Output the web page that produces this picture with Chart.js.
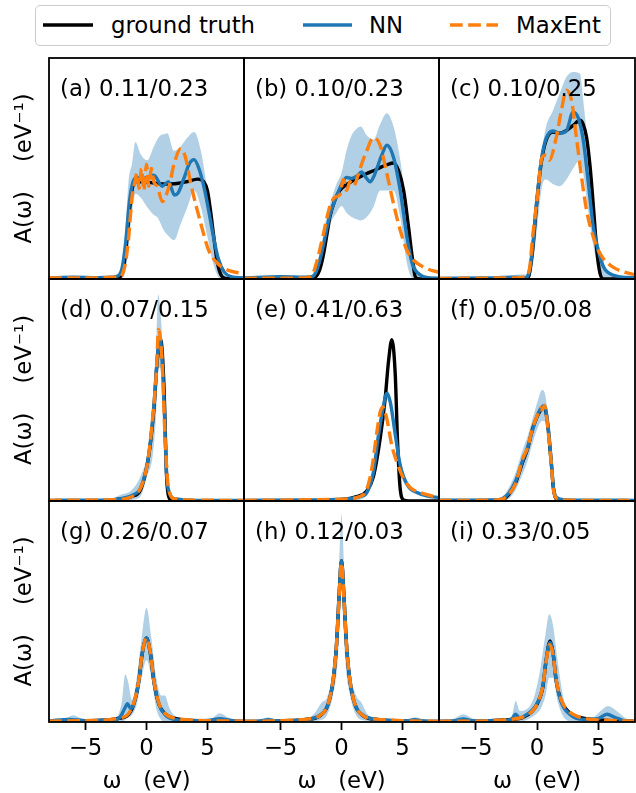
<!DOCTYPE html>
<html>
<head>
<meta charset="utf-8">
<script src="https://cdn.jsdelivr.net/npm/chart.js@4.4.0/dist/chart.umd.min.js"></script>
<style>
  html, body { margin: 0; padding: 0; background: #fff; }
  body { width: 636px; height: 793px; position: relative; overflow: hidden; font-family: 'DejaVu Sans', sans-serif; }
  canvas { position: absolute; }
  #legendBox { position: absolute; left: 35px; top: 5px; width: 574px; height: 39px; border: 1.5px solid #cccccc; border-radius: 5px; }
  .legText { position: absolute; top: 12px; font-size: 22.8px; line-height: 26px; color: #000; white-space: pre; }
  #legendLines { position: absolute; left: 0; top: 0; }
</style>
</head>
<body>
<div id="legendBox"></div>
<svg id="legendLines" width="636" height="50"></svg>
<script>
// legend + panel texts
const legendLabels = ['ground truth', 'NN', 'MaxEnt'];
const panelLabels = ['(a) 0.11/0.23', '(b) 0.10/0.23', '(c) 0.10/0.25',
                     '(d) 0.07/0.15', '(e) 0.41/0.63', '(f) 0.05/0.08',
                     '(g) 0.26/0.07', '(h) 0.12/0.03', '(i) 0.33/0.05'];
const xTicks = [-5, 0, 5];
const xTitle = 'ω   (eV)';
const yTitle = 'A(ω)    (eV⁻¹)';

// (a)
const truthW_a = [-8, -3, -2.3, -2.0, -1.75, -1.45, -1.2, -0.9, -0.5, 0.5, 1.5, 2.5, 3.3, 4.2, 4.7, 5.0, 5.25, 5.5, 5.8, 6.1, 6.5, 8];
const truthA_a = [0, 0, 0.003, 0.03, 0.1, 0.28, 0.4, 0.44, 0.44, 0.435, 0.43, 0.432, 0.44, 0.452, 0.44, 0.4, 0.31, 0.2, 0.08, 0.02, 0.002, 0];
const nnW_a = [-8, -6, -4, -2.8, -2.3, -2.0, -1.7, -1.4, -1.1, -0.8, -0.4, 0, 0.6, 1.3, 1.8, 2.3, 2.6, 3.1, 3.5, 3.9, 4.3, 4.7, 5.1, 5.5, 5.9, 6.4, 7, 8];
const nnA_a = [0.005, 0.008, 0.006, 0.008, 0.015, 0.05, 0.17, 0.35, 0.44, 0.46, 0.45, 0.46, 0.47, 0.42, 0.44, 0.38, 0.39, 0.46, 0.52, 0.54, 0.5, 0.42, 0.31, 0.19, 0.09, 0.03, 0.01, 0.005];
const maxEntW_a = [-8, -4, -2.6, -2.15, -1.74, -1.46, -1.19, -0.91, -0.8, -0.6, -0.41, -0.22, 0, 0.19, 0.41, 0.6, 0.88, 1.3, 1.85, 2.26, 2.81, 3.2, 3.64, 4.46, 5.1, 5.84, 6.67, 8];
const maxEntA_a = [0.005, 0.005, 0.008, 0.01, 0.07, 0.19, 0.37, 0.45, 0.48, 0.41, 0.5, 0.4, 0.52, 0.42, 0.5, 0.44, 0.42, 0.35, 0.42, 0.52, 0.59, 0.55, 0.43, 0.25, 0.13, 0.07, 0.04, 0.024];
const bandW_a = [-8, -3, -2.15, -1.74, -1.46, -1.19, -0.91, -0.5, 0.05, 0.6, 0.88, 1.16, 1.43, 1.71, 2.26, 2.81, 3.36, 3.91, 4.46, 5.0, 5.56, 6.1, 6.67, 8];
const bandHi_a = [0.01, 0.01, 0.03, 0.22, 0.45, 0.52, 0.62, 0.567, 0.537, 0.6, 0.63, 0.65, 0.655, 0.66, 0.58, 0.6, 0.64, 0.665, 0.58, 0.4, 0.19, 0.054, 0.01, 0.005];
const bandLo_a = [0, 0, 0, 0.03, 0.15, 0.3, 0.386, 0.37, 0.326, 0.29, 0.28, 0.25, 0.22, 0.2, 0.175, 0.25, 0.326, 0.4, 0.326, 0.19, 0.054, 0, 0, 0];

// (b)
const truthW_b = [-8, -2.4, -2.1, -1.8, -1.52, -1.2, -0.96, -0.55, -0.14, 0.5, 1.24, 2.0, 2.62, 3.2, 3.72, 4.27, 4.68, 5.1, 5.5, 5.8, 6.06, 6.4, 8];
const truthA_b = [0, 0, 0.01, 0.04, 0.1, 0.2, 0.28, 0.356, 0.4, 0.43, 0.454, 0.475, 0.49, 0.505, 0.517, 0.525, 0.49, 0.4, 0.235, 0.1, 0.01, 0, 0];
const nnW_b = [-8, -5, -3, -2.4, -2.1, -1.8, -1.5, -1.2, -0.9, -0.5, -0.14, 0.41, 0.8, 1.24, 1.65, 2.0, 2.34, 2.7, 2.9, 3.3, 3.72, 4.27, 4.82, 5.37, 5.8, 6.5, 7.2, 8];
const nnA_b = [0.005, 0.01, 0.008, 0.01, 0.03, 0.08, 0.15, 0.23, 0.3, 0.36, 0.41, 0.46, 0.455, 0.465, 0.484, 0.46, 0.44, 0.47, 0.5, 0.56, 0.605, 0.55, 0.4, 0.19, 0.07, 0.017, 0.005, 0.003];
const maxEntW_b = [-8, -3, -2.4, -2.07, -1.5, -1.0, -0.55, -0.14, 0.15, 0.41, 0.7, 1.0, 1.3, 1.57, 2.07, 2.62, 3.17, 3.72, 4.27, 4.82, 5.37, 5.92, 7.0, 8];
const maxEntA_b = [0.003, 0.005, 0.02, 0.07, 0.2, 0.32, 0.37, 0.38, 0.45, 0.4, 0.44, 0.42, 0.46, 0.507, 0.58, 0.64, 0.605, 0.477, 0.34, 0.22, 0.13, 0.085, 0.047, 0.03];
const bandW_b = [-8, -3, -2.4, -2.07, -1.65, -1.24, -0.83, -0.41, 0, 0.41, 0.83, 1.24, 1.57, 2.07, 2.62, 3.17, 3.72, 4.27, 4.82, 5.37, 5.92, 6.5, 8];
const bandHi_b = [0.01, 0.01, 0.02, 0.06, 0.15, 0.28, 0.36, 0.43, 0.48, 0.58, 0.65, 0.68, 0.69, 0.65, 0.63, 0.7, 0.75, 0.69, 0.54, 0.31, 0.1, 0.02, 0.01];
const bandLo_b = [0, 0, 0, 0.02, 0.08, 0.18, 0.26, 0.3, 0.33, 0.3, 0.28, 0.27, 0.265, 0.28, 0.326, 0.4, 0.4, 0.4, 0.28, 0.07, 0, 0, 0];

// (c)
const truthW_c = [-8, -1.0, -0.7, -0.36, -0.08, 0.33, 0.74, 1.29, 1.85, 2.4, 2.95, 3.5, 3.77, 4.05, 4.33, 4.6, 4.88, 5.15, 5.45, 8];
const truthA_c = [0, 0, 0.01, 0.13, 0.31, 0.52, 0.627, 0.665, 0.66, 0.672, 0.695, 0.718, 0.7, 0.64, 0.51, 0.33, 0.13, 0.024, 0, 0];
const nnW_c = [-8, -4, -2, -1.0, -0.7, -0.36, -0.08, 0.33, 0.74, 1.29, 1.85, 2.4, 2.95, 3.36, 3.77, 4.2, 4.6, 5.0, 5.43, 6.25, 8];
const nnA_c = [0.003, 0.005, 0.008, 0.005, 0.02, 0.14, 0.32, 0.53, 0.635, 0.67, 0.66, 0.67, 0.755, 0.73, 0.63, 0.43, 0.235, 0.13, 0.054, 0.017, 0.005];
const maxEntW_c = [-8, -2, -1.0, -0.6, -0.36, 0.06, 0.41, 0.74, 1.0, 1.57, 1.98, 2.4, 2.81, 3.22, 3.64, 4.05, 4.6, 5.15, 5.98, 7.08, 8];
const maxEntA_c = [0.002, 0.005, 0.01, 0.05, 0.19, 0.386, 0.55, 0.56, 0.537, 0.64, 0.76, 0.854, 0.81, 0.64, 0.46, 0.31, 0.19, 0.115, 0.062, 0.032, 0.02];
const bandW_c = [-8, -2.5, -1.5, -1.0, -0.6, -0.3, 0.05, 0.41, 0.74, 1.29, 1.85, 2.4, 2.95, 3.5, 3.77, 4.2, 4.6, 5.15, 6, 8];
const bandHi_c = [0.005, 0.01, 0.02, 0.02, 0.06, 0.2, 0.4, 0.58, 0.69, 0.76, 0.84, 0.914, 0.937, 0.93, 0.81, 0.58, 0.33, 0.13, 0.03, 0.01];
const bandLo_c = [0, 0, 0, 0, 0, 0.08, 0.25, 0.42, 0.45, 0.43, 0.42, 0.45, 0.5, 0.537, 0.48, 0.3, 0.15, 0.03, 0, 0];

// (d)
const truthW_d = [-8, -3, -2, -1.2, -0.47, 0.08, 0.33, 0.61, 0.88, 1.16, 1.43, 1.65, 1.85, 2.2, 8];
const truthA_d = [0, 0.003, 0.01, 0.02, 0.053, 0.17, 0.265, 0.417, 0.63, 0.727, 0.52, 0.11, 0.015, 0, 0];
const nnW_d = [-8, -3, -2, -1.2, -0.47, 0.08, 0.33, 0.61, 0.88, 1.1, 1.4, 1.65, 1.9, 2.3, 4, 8];
const nnA_d = [0.003, 0.005, 0.012, 0.025, 0.06, 0.17, 0.27, 0.43, 0.64, 0.735, 0.5, 0.12, 0.035, 0.01, 0.003, 0.002];
const maxEntW_d = [-8, -2.5, -1.6, -0.9, -0.47, 0.08, 0.33, 0.8, 0.99, 1.27, 1.54, 1.82, 2.3, 4, 8];
const maxEntA_d = [0.003, 0.006, 0.012, 0.03, 0.06, 0.17, 0.28, 0.57, 0.773, 0.64, 0.265, 0.053, 0.01, 0.004, 0.002];
const bandW_d = [-8, -3, -2, -1.2, -0.5, 0.1, 0.5, 0.8, 0.95, 1.15, 1.4, 1.65, 1.9, 2.3, 8];
const bandHi_d = [0.005, 0.01, 0.03, 0.05, 0.11, 0.22, 0.4, 0.7, 0.93, 0.85, 0.6, 0.16, 0.05, 0.01, 0.005];
const bandLo_d = [0, 0, 0, 0.005, 0.02, 0.12, 0.2, 0.4, 0.6, 0.6, 0.4, 0.06, 0, 0, 0];

// (e)
const truthW_e = [-8, -2, -0.2, 1.24, 2.07, 2.62, 3.17, 3.58, 3.86, 4.13, 4.41, 4.6, 4.82, 5.1, 5.5, 8];
const truthA_e = [0, 0, 0.005, 0.02, 0.045, 0.11, 0.28, 0.46, 0.63, 0.727, 0.57, 0.265, 0.053, 0.005, 0, 0];
const nnW_e = [-8, -3, 0, 1.5, 2.07, 2.62, 3.03, 3.45, 3.72, 4.0, 4.41, 4.82, 5.37, 6.2, 7.0, 8];
const nnA_e = [0.003, 0.005, 0.008, 0.02, 0.038, 0.13, 0.295, 0.43, 0.485, 0.447, 0.3, 0.16, 0.076, 0.038, 0.023, 0.015];
const maxEntW_e = [-8, 0, 1.5, 2.07, 2.48, 2.9, 3.17, 3.39, 3.72, 4.13, 4.55, 5.1, 5.65, 6.47, 8];
const maxEntA_e = [0.003, 0.008, 0.02, 0.053, 0.144, 0.31, 0.4, 0.424, 0.37, 0.25, 0.174, 0.1, 0.06, 0.038, 0.015];
const bandW_e = [-8, -3, 1, 2.07, 2.62, 3.03, 3.45, 3.72, 4.0, 4.41, 4.82, 5.37, 6.2, 8];
const bandHi_e = [0.01, 0.01, 0.015, 0.05, 0.16, 0.33, 0.47, 0.5, 0.47, 0.33, 0.19, 0.09, 0.045, 0.02];
const bandLo_e = [0, 0, 0.003, 0.025, 0.1, 0.26, 0.4, 0.46, 0.42, 0.27, 0.13, 0.06, 0.03, 0.01];

// (f)
const truthW_f = [-8, -3.5, -2.84, -2.3, -1.74, -1.18, -0.77, -0.36, 0.06, 0.41, 0.6, 0.88, 1.16, 1.35, 1.57, 2.12, 8];
const truthA_f = [0, 0.002, 0.005, 0.03, 0.083, 0.174, 0.235, 0.326, 0.386, 0.417, 0.424, 0.34, 0.174, 0.053, 0.01, 0.003, 0];
const nnW_f = [-8, -3.5, -2.84, -2.3, -1.74, -1.18, -0.77, -0.36, 0.06, 0.35, 0.6, 0.88, 1.16, 1.35, 1.6, 2.3, 8];
const nnA_f = [0.003, 0.005, 0.01, 0.035, 0.09, 0.18, 0.24, 0.32, 0.39, 0.42, 0.43, 0.35, 0.18, 0.06, 0.015, 0.005, 0.003];
const maxEntW_f = [-8, -3.5, -2.84, -2.3, -1.74, -1.18, -0.77, -0.36, 0.06, 0.3, 0.41, 0.61, 0.88, 1.16, 1.35, 1.6, 2.3, 8];
const maxEntA_f = [0.002, 0.004, 0.008, 0.03, 0.08, 0.19, 0.24, 0.33, 0.39, 0.42, 0.41, 0.43, 0.33, 0.17, 0.05, 0.012, 0.004, 0.002];
const bandW_f = [-8, -3.5, -2.84, -2.3, -1.74, -1.18, -0.77, -0.36, 0.06, 0.41, 0.7, 1.0, 1.3, 1.6, 2.2, 8];
const bandHi_f = [0.01, 0.01, 0.02, 0.06, 0.13, 0.23, 0.29, 0.37, 0.45, 0.5, 0.47, 0.3, 0.1, 0.03, 0.01, 0.005];
const bandLo_f = [0, 0, 0, 0.01, 0.05, 0.12, 0.18, 0.26, 0.33, 0.36, 0.36, 0.2, 0.03, 0, 0, 0];

// (g)
const truthW_g = [-8, -5, -3, -2.26, -1.6, -1.05, -0.63, -0.36, 0, 0.33, 0.6, 1.02, 1.57, 2.26, 3.5, 5, 8];
const truthA_g = [0.003, 0.005, 0.01, 0.017, 0.027, 0.08, 0.186, 0.306, 0.38, 0.306, 0.186, 0.08, 0.035, 0.017, 0.008, 0.005, 0.003];
const nnW_g = [-8, -6.3, -5, -3, -2.2, -1.8, -1.55, -1.3, -1.05, -0.63, -0.36, 0, 0.33, 0.6, 1.02, 1.57, 2.26, 4, 5.2, 6.0, 7, 8];
const nnA_g = [0.005, 0.012, 0.006, 0.008, 0.02, 0.06, 0.083, 0.06, 0.08, 0.186, 0.306, 0.38, 0.306, 0.186, 0.08, 0.03, 0.012, 0.006, 0.008, 0.015, 0.006, 0.003];
const maxEntW_g = [-8, -5, -3, -2.26, -1.6, -1.05, -0.63, -0.36, 0, 0.33, 0.6, 1.02, 1.57, 2.26, 3.5, 5, 8];
const maxEntA_g = [0.004, 0.006, 0.011, 0.018, 0.03, 0.085, 0.19, 0.31, 0.38, 0.31, 0.19, 0.085, 0.036, 0.018, 0.009, 0.006, 0.004];
const bandW_g = [-8, -6.5, -6.0, -5.3, -4, -2.5, -2.0, -1.75, -1.5, -1.2, -0.8, -0.4, 0, 0.4, 0.8, 1.2, 1.5, 1.9, 2.5, 3.5, 5.3, 6.0, 6.7, 8];
const bandHi_g = [0.008, 0.02, 0.03, 0.015, 0.01, 0.02, 0.1, 0.216, 0.18, 0.1, 0.2, 0.38, 0.517, 0.38, 0.2, 0.12, 0.12, 0.06, 0.02, 0.01, 0.015, 0.04, 0.02, 0.005];
const bandLo_g = [0, 0, 0, 0, 0, 0, 0, 0.01, 0.02, 0.03, 0.08, 0.2, 0.28, 0.2, 0.06, 0.01, 0, 0, 0, 0, 0, 0, 0, 0];

// (h)
const truthW_h = [-8, -5, -2.9, -1.8, -1.1, -0.69, -0.41, -0.19, 0, 0.19, 0.41, 0.69, 1.1, 1.8, 2.9, 5, 8];
const truthA_h = [0.002, 0.005, 0.012, 0.027, 0.08, 0.186, 0.35, 0.58, 0.73, 0.58, 0.35, 0.186, 0.08, 0.027, 0.012, 0.005, 0.002];
const nnW_h = [-8, -6.8, -6, -5.2, -2.9, -1.8, -1.1, -0.69, -0.41, -0.19, 0, 0.19, 0.41, 0.69, 1.1, 1.8, 2.9, 5.2, 6, 6.8, 8];
const nnA_h = [0.002, 0.004, 0.01, 0.005, 0.012, 0.03, 0.08, 0.19, 0.35, 0.58, 0.73, 0.58, 0.35, 0.19, 0.08, 0.03, 0.012, 0.005, 0.01, 0.004, 0.002];
const maxEntW_h = [-8, -5, -2.9, -1.8, -1.1, -0.69, -0.41, -0.19, 0, 0.19, 0.41, 0.69, 1.1, 1.8, 2.9, 5, 8];
const maxEntA_h = [0.003, 0.006, 0.013, 0.028, 0.082, 0.19, 0.35, 0.57, 0.72, 0.57, 0.35, 0.19, 0.082, 0.028, 0.013, 0.006, 0.003];
const bandW_h = [-8, -6.5, -6, -5.3, -3, -2.2, -1.6, -1.2, -0.7, -0.35, -0.1, 0, 0.1, 0.35, 0.7, 1.2, 1.6, 2.2, 3, 5.3, 6, 6.7, 8];
const bandHi_h = [0.005, 0.012, 0.022, 0.01, 0.015, 0.04, 0.09, 0.11, 0.24, 0.5, 0.85, 0.94, 0.85, 0.5, 0.24, 0.12, 0.09, 0.03, 0.015, 0.01, 0.022, 0.012, 0.005];
const bandLo_h = [0, 0, 0, 0, 0, 0.005, 0.01, 0.03, 0.12, 0.25, 0.5, 0.6, 0.5, 0.25, 0.12, 0.03, 0.01, 0.005, 0, 0, 0, 0, 0];

// (i)
const truthW_i = [-8, -4, -2.5, -1.19, -0.36, 0.06, 0.47, 0.74, 1.07, 1.29, 1.57, 1.98, 2.67, 3.77, 5.5, 8];
const truthA_i = [0.002, 0.005, 0.01, 0.02, 0.05, 0.087, 0.155, 0.276, 0.367, 0.32, 0.186, 0.095, 0.042, 0.017, 0.008, 0.003];
const nnW_i = [-8, -6.8, -6.0, -5.2, -3, -2.1, -1.74, -1.4, -0.8, -0.36, 0.06, 0.47, 0.74, 1.07, 1.29, 1.57, 1.98, 2.67, 3.77, 5.0, 5.7, 6.4, 7.2, 8];
const nnA_i = [0.003, 0.005, 0.014, 0.005, 0.006, 0.012, 0.035, 0.018, 0.035, 0.055, 0.09, 0.16, 0.28, 0.36, 0.32, 0.186, 0.09, 0.035, 0.012, 0.015, 0.035, 0.02, 0.005, 0.003];
const maxEntW_i = [-8, -4, -2.5, -1.19, -0.36, 0.06, 0.47, 0.74, 1.02, 1.29, 1.57, 1.98, 2.67, 3.77, 5.5, 8];
const maxEntA_i = [0.003, 0.005, 0.01, 0.022, 0.05, 0.088, 0.16, 0.27, 0.35, 0.31, 0.19, 0.1, 0.045, 0.018, 0.008, 0.004];
const bandW_i = [-8, -6.8, -6.0, -5.2, -3, -2.1, -1.74, -1.4, -0.8, -0.2, 0.3, 0.7, 1.0, 1.3, 1.7, 2.2, 3, 4.5, 5.2, 5.8, 6.5, 7.3, 8];
const bandHi_i = [0.005, 0.015, 0.035, 0.015, 0.01, 0.02, 0.095, 0.05, 0.06, 0.12, 0.25, 0.4, 0.487, 0.44, 0.27, 0.1, 0.04, 0.02, 0.05, 0.072, 0.05, 0.015, 0.005];
const bandLo_i = [0, 0, 0, 0, 0, 0, 0.01, 0, 0.01, 0.03, 0.06, 0.12, 0.2, 0.2, 0.09, 0.02, 0, 0, 0, 0.01, 0, 0, 0];

const panels = [
  {truth: [truthW_a, truthA_a], nn: [nnW_a, nnA_a], maxEnt: [maxEntW_a, maxEntA_a], band: [bandW_a, bandHi_a, bandLo_a]},
  {truth: [truthW_b, truthA_b], nn: [nnW_b, nnA_b], maxEnt: [maxEntW_b, maxEntA_b], band: [bandW_b, bandHi_b, bandLo_b]},
  {truth: [truthW_c, truthA_c], nn: [nnW_c, nnA_c], maxEnt: [maxEntW_c, maxEntA_c], band: [bandW_c, bandHi_c, bandLo_c]},
  {truth: [truthW_d, truthA_d], nn: [nnW_d, nnA_d], maxEnt: [maxEntW_d, maxEntA_d], band: [bandW_d, bandHi_d, bandLo_d]},
  {truth: [truthW_e, truthA_e], nn: [nnW_e, nnA_e], maxEnt: [maxEntW_e, maxEntA_e], band: [bandW_e, bandHi_e, bandLo_e]},
  {truth: [truthW_f, truthA_f], nn: [nnW_f, nnA_f], maxEnt: [maxEntW_f, maxEntA_f], band: [bandW_f, bandHi_f, bandLo_f]},
  {truth: [truthW_g, truthA_g], nn: [nnW_g, nnA_g], maxEnt: [maxEntW_g, maxEntA_g], band: [bandW_g, bandHi_g, bandLo_g]},
  {truth: [truthW_h, truthA_h], nn: [nnW_h, nnA_h], maxEnt: [maxEntW_h, maxEntA_h], band: [bandW_h, bandHi_h, bandLo_h]},
  {truth: [truthW_i, truthA_i], nn: [nnW_i, nnA_i], maxEnt: [maxEntW_i, maxEntA_i], band: [bandW_i, bandHi_i, bandLo_i]}
];

// look
const COLORS = {truth: '#000000', nn: '#1f77b4', maxEnt: '#ff7f0e', band: 'rgba(31,119,180,0.35)'};
const DASH = [12.7, 5.5];
const FONT = 22.8;
const LW = 3.4;
const PAD = 6;
const PAGE_H = 793;
const plotLeft = [49, 244, 439], plotWidth = [195, 195, 196];
const plotTop = [58, 279, 501], plotHeight = [221, 222, 221];

Chart.defaults.font.family = "'DejaVu Sans', sans-serif";
Chart.defaults.color = '#000';

// legend (html/svg, sits above the grid)
const legendLineX = [[43, 93], [303, 352], [450, 498]];
const legendTextX = [111, 369, 516];
const legendColors = [COLORS.truth, COLORS.nn, COLORS.maxEnt];
const svg = document.getElementById('legendLines');
legendLabels.forEach((lab, i) => {
    const ln = document.createElementNS('http://www.w3.org/2000/svg', 'line');
    ln.setAttribute('x1', legendLineX[i][0]); ln.setAttribute('x2', legendLineX[i][1]);
    ln.setAttribute('y1', 25); ln.setAttribute('y2', 25);
    ln.setAttribute('stroke', legendColors[i]); ln.setAttribute('stroke-width', LW);
    if (i === 2) ln.setAttribute('stroke-dasharray', DASH.join(' '));
    svg.appendChild(ln);
    const sp = document.createElement('span');
    sp.className = 'legText';
    sp.style.left = legendTextX[i] + 'px';
    sp.textContent = lab;
    document.body.appendChild(sp);
});

const framePlugin = {
    id: 'frame',
    afterDatasetsDraw(chart) {
        const {ctx, chartArea: a} = chart;
        ctx.save();
        ctx.strokeStyle = '#000';
        ctx.lineWidth = 1.8;
        ctx.strokeRect(a.left, a.top, a.right - a.left, a.bottom - a.top);
        ctx.restore();
    }
};

const panelLabelPlugin = {
    id: 'panelLabel',
    afterDraw(chart, args, opts) {
        const {ctx, chartArea: a} = chart;
        ctx.save();
        ctx.font = FONT + "px 'DejaVu Sans'";
        ctx.fillStyle = '#000';
        ctx.textBaseline = 'alphabetic';
        ctx.fillText(opts.text, a.left + 11, a.top + 38);
        ctx.restore();
    }
};

const pts = (w, a) => w.map((x, i) => ({x: x, y: a[i]}));

function lineSet(label, data, color, dash) {
    return {
        label: label, data: data, borderColor: color, borderWidth: LW,
        borderDash: dash || [], pointRadius: 0, fill: false, clip: 0,
        cubicInterpolationMode: 'monotone', borderJoinStyle: 'round'
    };
}

panels.forEach((p, i) => {
    const row = Math.floor(i / 3), col = i % 3;
    const isLeft = col === 0, isBottom = row === 2;
    const cLeft = isLeft ? 0 : plotLeft[col] - PAD;
    const cTop = plotTop[row] - PAD;
    const cW = plotLeft[col] + plotWidth[col] + PAD - cLeft;
    const cH = isBottom ? PAGE_H - cTop : plotHeight[row] + 2 * PAD;

    const canvas = document.createElement('canvas');
    canvas.width = cW; canvas.height = cH;
    canvas.style.left = cLeft + 'px'; canvas.style.top = cTop + 'px';
    canvas.style.width = cW + 'px'; canvas.style.height = cH + 'px';
    document.body.appendChild(canvas);

    new Chart(canvas.getContext('2d'), {
        type: 'line',
        data: {
            datasets: [
                lineSet('MaxEnt', pts(...p.maxEnt), COLORS.maxEnt, DASH),
                lineSet('NN', pts(...p.nn), COLORS.nn),
                lineSet('ground truth', pts(...p.truth), COLORS.truth),
                {label: 'NN spread', data: pts(p.band[0], p.band[1]), borderWidth: 0, borderColor: 'rgba(0,0,0,0)',
                 backgroundColor: COLORS.band, fill: '+1', pointRadius: 0, clip: 0, cubicInterpolationMode: 'monotone'},
                {label: 'NN spread low', data: pts(p.band[0], p.band[2]), borderWidth: 0, borderColor: 'rgba(0,0,0,0)',
                 fill: false, pointRadius: 0, clip: 0, cubicInterpolationMode: 'monotone'}
            ]
        },
        options: {
            responsive: false,
            animation: false,
            events: [],
            layout: {padding: {left: isLeft ? 0 : PAD, right: PAD, top: PAD, bottom: isBottom ? 0 : PAD}},
            plugins: {
                legend: {display: false},
                tooltip: {enabled: false},
                panelLabel: {text: panelLabels[i]}
            },
            scales: {
                x: {
                    type: 'linear', min: -8, max: 8, display: isBottom,
                    afterBuildTicks: s => { s.ticks = xTicks.map(v => ({value: v})); },
                    afterFit: s => { s.height = isBottom ? PAGE_H - (plotTop[2] + plotHeight[2]) : 0; },
                    grid: {drawOnChartArea: false, drawTicks: true, tickLength: 8, tickWidth: 1.8, tickColor: '#000'},
                    border: {display: false},
                    ticks: {padding: 5, color: '#000', maxRotation: 0, font: {size: FONT},
                            callback: v => v < 0 ? '\u2212' + Math.abs(v) : String(v)},
                    title: {display: true, text: xTitle, color: '#000', font: {size: FONT, lineHeight: 1}, padding: {top: 0, bottom: 0}}
                },
                y: {
                    min: 0, max: 1, display: isLeft,
                    afterFit: s => { s.width = isLeft ? plotLeft[0] : 0; },
                    grid: {display: false},
                    border: {display: false},
                    ticks: {display: false},
                    title: {display: true, text: yTitle, color: '#000', font: {size: FONT, lineHeight: 1}, padding: {top: 14, bottom: 0}}
                }
            }
        },
        plugins: [framePlugin, panelLabelPlugin]
    });
});
</script>
</body>
</html>
